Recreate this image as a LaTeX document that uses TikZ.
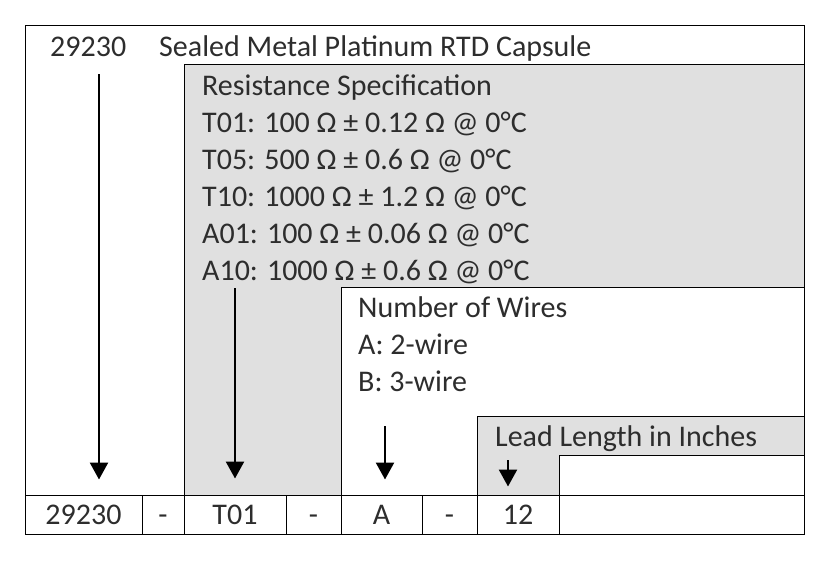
\documentclass[tikz,border=0pt]{standalone}
\usepackage{fontspec}
\setmainfont{Carlito}
\usetikzlibrary{arrows.meta}

\definecolor{specgray}{RGB}{224,224,224}
\definecolor{inkgray}{RGB}{45,45,45}

\begin{document}
\begin{tikzpicture}[
        x=1pt,
        y=-1pt,
        font=\fontsize{30}{36}\selectfont,
        text=inkgray,
        frame/.style={
            line width=1pt,
        },
        shade-box/.style={
            fill=specgray,
        },
        label-text/.style={
            anchor=base west,
            inner sep=0pt,
        },
        cell/.style={
            draw,
            line width=1pt,
            minimum height=39pt,
            inner sep=0pt,
            text height=19pt,
            text depth=0pt,
        },
        pointer/.style={
            line width=2.5pt,
            -{Triangle[width=18pt, length=17pt]},
        },
    ]
    \useasboundingbox (0, 0) rectangle (830, 560);

    % Shaded option blocks.
    \fill[shade-box] (184, 64) -- (804, 64) -- (804, 287) -- (341, 287)
        -- (341, 495) -- (184, 495) -- cycle;
    \fill[shade-box] (477, 416) -- (804, 416) -- (804, 455) -- (559, 455)
        -- (559, 495) -- (477, 495) -- cycle;

    % Outer frame and block edges.
    \draw[frame] (25, 25) rectangle (804, 534);
    \draw[frame] (184, 534) -- (184, 64) -- (804, 64);
    \draw[frame] (341, 534) -- (341, 287) -- (804, 287);
    \draw[frame] (477, 534) -- (477, 416) -- (804, 416);
    \draw[frame] (559, 534) -- (559, 455) -- (804, 455);

    % Heading.
    \node[label-text] (model) at (50, 56) {29230};
    \node[label-text] (title) at (159, 56) {Sealed Metal Platinum RTD Capsule};

    % Resistance specification.
    \foreach \i/\t in {0/Resistance Specification,
        1/T01: 100 Ω ± 0.12 Ω @ 0°C,
        2/T05: 500 Ω ± 0.6 Ω @ 0°C,
        3/T10: 1000 Ω ± 1.2 Ω @ 0°C,
        4/A01: 100 Ω ± 0.06 Ω @ 0°C,
        5/A10: 1000 Ω ± 0.6 Ω @ 0°C}
    \node[label-text] (res\i) at (202, 95 + 37*\i) {\t};

    % Number of wires.
    \foreach \i/\t in {0/Number of Wires, 1/A: 2-wire, 2/B: 3-wire}
    \node[label-text] (wire\i) at (358, 317 + 37*\i) {\t};

    % Lead length.
    \node[label-text] (lead) at (495, 446) {Lead Length in Inches};

    % Part number row.
    \foreach \name/\l/\r/\t in {c29230/25/142/29230, dash1/142/184/-,
        cT01/184/286/T01, dash2/286/341/-, cA/341/422/A, dash3/422/477/-,
        c12/477/559/12, cend/559/804/{}}
    \node[cell, minimum width={(\r-\l)*1pt}] (\name) at ({(\l+\r)/2}, 514.5) {\t};

    % Arrows.
    \coordinate (from29230) at (99, 74);
    \coordinate (fromT01) at (235, 288);
    \coordinate (fromA) at (385, 426);
    \coordinate (from12) at (508, 460);
    \draw[pointer] (from29230) -- ([yshift=15pt]from29230 |- c29230.north);
    \draw[pointer] (fromT01) -- ([yshift=16pt]fromT01 |- cT01.north);
    \draw[pointer] (fromA) -- ([yshift=15pt]fromA |- cA.north);
    \draw[pointer] (from12) -- ([yshift=8pt]from12 |- c12.north);
\end{tikzpicture}
\end{document}
